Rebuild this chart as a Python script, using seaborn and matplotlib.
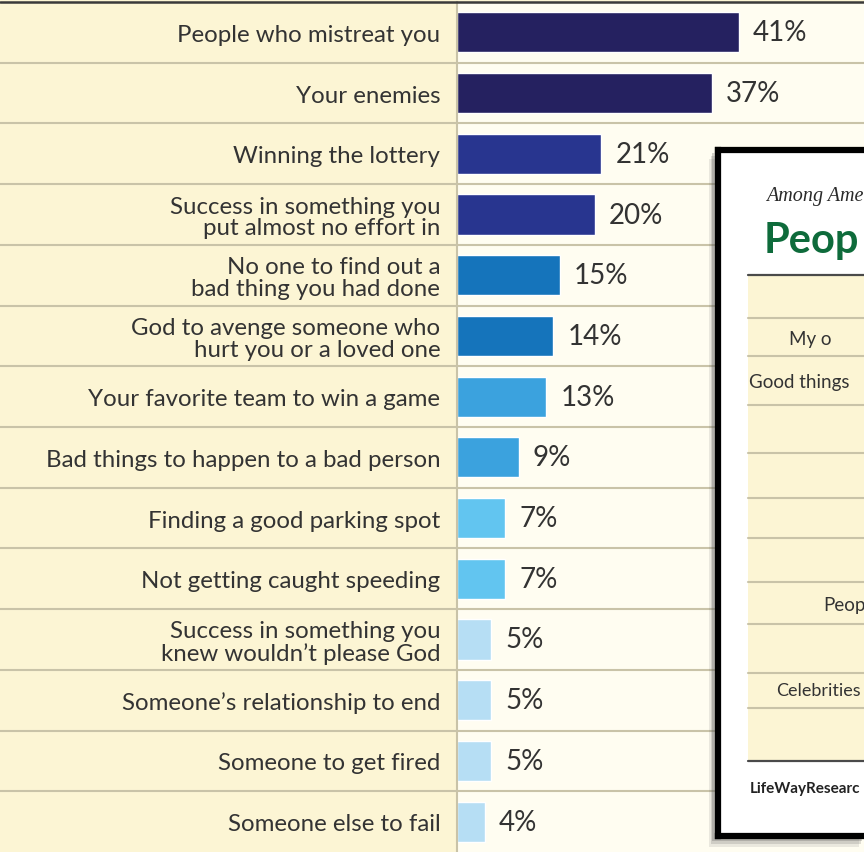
import pandas as pd
import seaborn as sns
import matplotlib.pyplot as plt
from matplotlib.patches import Rectangle

# survey items, top to bottom
items = [
    "People who mistreat you",
    "Your enemies",
    "Winning the lottery",
    "Success in something you\nput almost no effort in",
    "No one to find out a\nbad thing you had done",
    "God to avenge someone who\nhurt you or a loved one",
    "Your favorite team to win a game",
    "Bad things to happen to a bad person",
    "Finding a good parking spot",
    "Not getting caught speeding",
    "Success in something you\nknew wouldn\u2019t please God",
    "Someone\u2019s relationship to end",
    "Someone to get fired",
    "Someone else to fail",
]
pcts = [41, 37, 21, 20, 15, 14, 13, 9, 7, 7, 5, 5, 5, 4]
bar_colors = ["#252160", "#252160", "#28358f", "#28358f", "#1574bb", "#1574bb",
              "#3ba2de", "#3ba2de", "#62c5f0", "#62c5f0",
              "#b6def4", "#b6def4", "#b6def4", "#b6def4"]

# visible text of the second chart that overlaps on the right
inset_kicker = "Among Ame"
inset_title = "Peop"
inset_rows = ["My o", "Good things", "Peop", "Celebrities"]
inset_source = "LifeWayResearc"

df = pd.DataFrame({"item": items, "pct": pcts})

W, H = 864, 853
cream = "#fcf5d4"
light = "#fffdf1"
rule = "#c9c3a8"

sns.set_style("white")
plt.rcParams["font.family"] = ["Lato", "DejaVu Sans"]

fig = plt.figure(figsize=(W / 100, H / 100), dpi=100, facecolor=cream)
ax = fig.add_axes([457 / W, 0, (W - 457) / W, (H - 3) / H])
ax.set_facecolor(light)

sns.barplot(data=df, x="pct", y="item", hue="item", palette=bar_colors,
            legend=False, width=0.66, saturation=1, ax=ax)
for c in ax.containers:
    ax.bar_label(c, fmt="%d%%", padding=10, fontsize=20, color="#333333")

ax.set_xlim(0, (W - 457) / 6.88)
ax.set_ylim(len(items) - 0.5, -0.5)
ax.set(xlabel="", ylabel="", xticks=[])
ax.tick_params(axis="y", length=0, pad=12, labelsize=17.3, labelcolor="#333333")
for lab in ax.get_yticklabels():
    lab.set_linespacing(1.05)

for s in ["top", "right", "bottom"]:
    ax.spines[s].set_visible(False)
ax.spines["left"].set_color(rule)
ax.spines["left"].set_linewidth(1.5)

# row rules running across the label column too
for i in range(len(items) - 1):
    ax.plot([-1.2, 1], [i + 0.5, i + 0.5], transform=ax.get_yaxis_transform(),
            color=rule, lw=1.5, clip_on=False, zorder=0)

# dark rule along the top
fig.add_artist(plt.Line2D([0, 1], [1 - 2.5 / H, 1 - 2.5 / H], color="#3a3a3a", lw=1.8))

# shadow of the overlapping card
for off, a in [(10, 0.12), (7, 0.18), (4, 0.25)]:
    fig.add_artist(Rectangle(((714 - off / 2) / W, 1 - (838 + off) / H),
                             (W - 714) / W, (838 - 150) / H,
                             transform=fig.transFigure, facecolor="#555555",
                             edgecolor="none", alpha=a, zorder=5))

# overlapping card, drawn in pixel coords
ins = fig.add_axes([718 / W, 1 - 837 / H, (900 - 718) / W, (837 - 150.5) / H], zorder=10)
ins.set_xlim(718, 900)
ins.set_ylim(837, 150.5)
ins.set_facecolor("white")
ins.set_xticks([])
ins.set_yticks([])
for s in ins.spines.values():
    s.set_color("black")
    s.set_linewidth(4.5)

ins.add_patch(Rectangle((748, 276), 200, 486, facecolor=cream, edgecolor="none"))
for y in [319, 357, 406, 454, 499, 539, 583, 625, 674, 709]:
    ins.plot([748, 900], [y, y], color=rule, lw=1.5)
for y in [276, 762]:
    ins.plot([748, 900], [y, y], color="#4a4a4a", lw=1.6)

ins.text(766, 196, inset_kicker, family="Liberation Serif", style="italic",
         fontsize=14.5, color="#2a2a2a", va="center")
ins.text(764, 241, inset_title, fontsize=30, fontweight="bold", color="#0e6b3b", va="center")
for (x, y), t in zip([(789, 340), (749, 383), (823, 606), (776, 691)], inset_rows):
    ins.text(x, y, t, fontsize=13.5 if t != "Celebrities" else 13, color="#333333", va="center")
ins.text(750, 789, inset_source, fontsize=11, fontweight="bold", color="#222222", va="center")

plt.savefig("out.png", dpi=100, facecolor=cream)
